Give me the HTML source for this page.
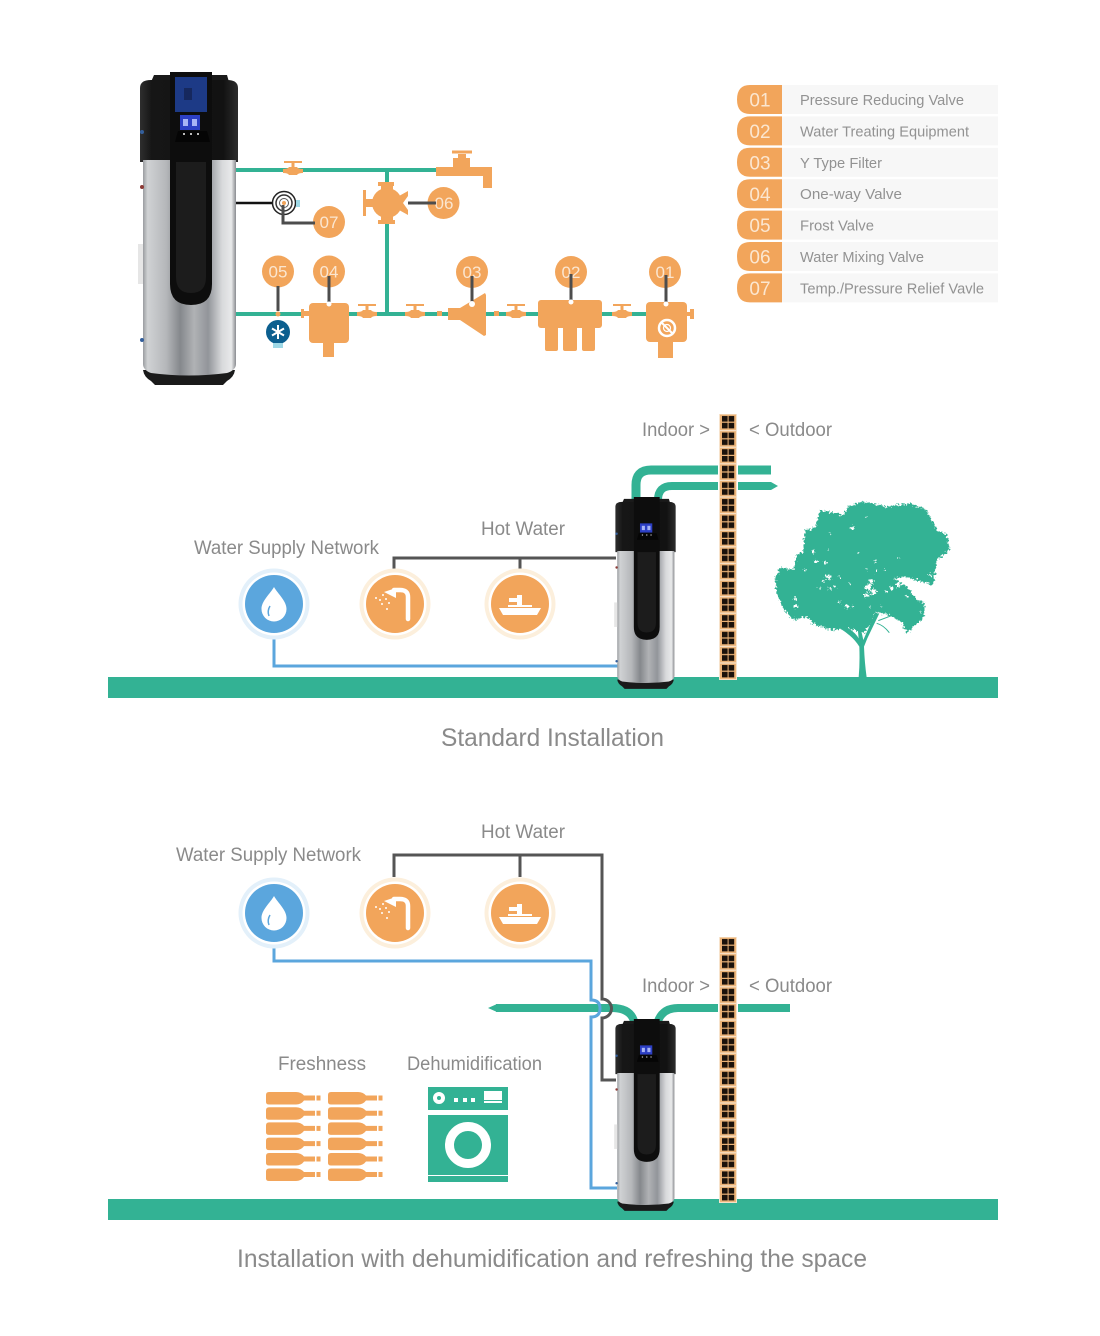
<!DOCTYPE html>
<html><head><meta charset="utf-8"><style>
html,body{margin:0;padding:0;background:#fff;width:1100px;height:1336px;overflow:hidden}
svg{display:block}
text{font-family:"Liberation Sans",sans-serif;fill:#8a8a8a}
.n{fill:#fbe6d0;text-anchor:middle;font-size:17px}
.t{font-size:14.5px;fill:#929292}
.l{font-size:19px}
</style></head><body>
<svg width="1100" height="1336" viewBox="0 0 1100 1336" xmlns="http://www.w3.org/2000/svg">
<defs>
<linearGradient id="si" x1="0" x2="1" y1="0" y2="0">
<stop offset="0" stop-color="#9a9da0"/><stop offset=".05" stop-color="#d0d2d4"/><stop offset=".25" stop-color="#b5b7ba"/><stop offset=".4" stop-color="#85888c"/><stop offset=".55" stop-color="#b0b2b5"/><stop offset=".7" stop-color="#92959a"/><stop offset=".85" stop-color="#d8d9db"/><stop offset=".95" stop-color="#e8e9ea"/><stop offset="1" stop-color="#8a8c90"/>
</linearGradient>
<linearGradient id="bk" x1="0" x2="1" y1="0" y2="0">
<stop offset="0" stop-color="#2e2e2e"/><stop offset=".12" stop-color="#161616"/><stop offset=".85" stop-color="#121212"/><stop offset="1" stop-color="#2c2c2c"/>
</linearGradient>
<g id="heater">
<path d="M2 298Q3 305 10 309L14 313H82L86 309Q93 305 94 298Z" fill="#1a1a1a"/>
<path d="M10 10 L13 3 H86 L88 10Z" fill="#1a1a1a"/>
<path d="M-1 90V16Q-1 8 10 8H86Q97 8 97 16V90Z" fill="url(#bk)"/>
<path d="M2 88H95V292Q95 298 86 301Q48 306 10 301Q2 298 2 292Z" fill="url(#si)"/>
<path d="M29 0H71V212Q71 233 50 233Q29 233 29 212Z" fill="#0d0d0d"/>
<path d="M35 90H65V205Q65 221 50 221Q35 221 35 205Z" fill="#1c1c1c"/>
<rect x="39" y="43" width="20" height="15" fill="#2c3fc4"/>
<rect x="42" y="47" width="5" height="7" fill="#a8b4f5"/><rect x="51" y="47" width="5" height="7" fill="#a8b4f5"/>
<path d="M37 59H66L69 70H34Z" fill="#050505"/>
<rect x="42" y="61" width="2" height="2" fill="#bbb"/><rect x="49" y="61" width="2" height="2" fill="#bbb"/><rect x="56" y="61" width="2" height="2" fill="#bbb"/>
<circle cx="1" cy="60" r="2" fill="#345f9c"/><circle cx="1" cy="115" r="2" fill="#8c3a36"/><circle cx="1" cy="268" r="2" fill="#345f9c"/>
<rect x="-3" y="172" width="5" height="40" fill="#e6e6e6"/>
</g>
<g id="valve" fill="#f2a55b">
<rect x="-9" y="-9" width="18" height="2"/><rect x="-1.5" y="-8" width="3" height="6"/>
<path d="M-10 -1 Q-5 -1 -4 -3 H4 Q5 -1 10 -1 V3 Q5 3 4 5 H-4 Q-5 3 -10 3Z"/>
</g>
<pattern id="brick" x="719" y="414" width="18" height="16.6" patternUnits="userSpaceOnUse">
<rect width="18" height="16.6" fill="#f7e3cc"/>
<rect x="1" y=".6" width="16" height="15.4" fill="#ecb377"/>
<rect x="3" y="2" width="5.6" height="5.6" fill="#1b120b"/><rect x="9.6" y="2" width="5.6" height="5.6" fill="#1b120b"/>
<rect x="3" y="8.800" width="5.6" height="5.6" fill="#1b120b"/><rect x="9.6" y="8.800" width="5.6" height="5.6" fill="#1b120b"/>
</pattern>
<pattern id="brick2" x="719" y="937" width="18" height="16.6" patternUnits="userSpaceOnUse">
<rect width="18" height="16.6" fill="#f7e3cc"/>
<rect x="1" y=".6" width="16" height="15.4" fill="#ecb377"/>
<rect x="3" y="2" width="5.6" height="5.6" fill="#1b120b"/><rect x="9.6" y="2" width="5.6" height="5.6" fill="#1b120b"/>
<rect x="3" y="8.800" width="5.6" height="5.6" fill="#1b120b"/><rect x="9.6" y="8.800" width="5.6" height="5.6" fill="#1b120b"/>
</pattern>
<g id="drop">
<circle r="35.5" fill="#e3f0fa"/><circle r="31.5" fill="#fff"/><circle r="29" fill="#5ba6dd"/>
<path d="M0 -17 C4 -10 12.500 -3 12.500 5 A12.500 12.500 0 0 1 -12.500 5 C-12.500 -3 -4 -10 0 -17Z" fill="#fff"/>
<path d="M-4 2 Q-7 7 -5 12" stroke="#5ba6dd" stroke-width="1.5" fill="none"/>
</g>
<g id="shower">
<circle r="35.5" fill="#fcefdc"/><circle r="31.5" fill="#fff"/><circle r="29" fill="#f2a55b"/>
<path d="M13 15V-7Q13 -14 5 -14H-1" stroke="#fff" stroke-width="4.500" fill="none" stroke-linecap="round"/>
<path d="M-11 -12 L1 -16 V-6Z" fill="#fff"/>
<g fill="#fff"><circle cx="-12" cy="-9" r="1"/><circle cx="-19" cy="-6" r="1"/><circle cx="-15" cy="-4" r="1"/><circle cx="-9" cy="-5" r="1"/><circle cx="-13" cy="0" r="1"/><circle cx="-6" cy="-1" r="1"/><circle cx="-8" cy="5" r="1"/></g>
</g>
<g id="sink">
<circle r="35.5" fill="#fcefdc"/><circle r="31.5" fill="#fff"/><circle r="29" fill="#f2a55b"/>
<path d="M-21 4H21L17 11H-17Z" fill="#fff"/>
<rect x="-3" y="-9" width="5" height="12" fill="#fff"/><rect x="-11" y="-6" width="9" height="4" fill="#fff"/><rect x="-12" y="1" width="24" height="2" fill="#fff"/>
</g>
<g id="bottle" fill="#f2a55b">
<path d="M3 0H30Q35 0 38 3.500H49V8.500H38Q35 12.500 30 12.500H3Q0 12.500 0 10V3Q0 0 3 0Z"/>
<rect x="50.500" y="3.500" width="4" height="5"/>
</g>
<filter id="rough" x="-5%" y="-5%" width="110%" height="110%" color-interpolation-filters="sRGB">
<feTurbulence type="fractalNoise" baseFrequency=".16" numOctaves="2" seed="7"/>
<feDisplacementMap in="SourceGraphic" scale="20" xChannelSelector="R" yChannelSelector="G"/>
</filter>
</defs>

<!-- table -->
<g>
<rect x="782" y="85" width="216" height="29" fill="#f7f7f7"/>
<rect x="782" y="116.4" width="216" height="29" fill="#f7f7f7"/>
<rect x="782" y="147.8" width="216" height="29" fill="#f7f7f7"/>
<rect x="782" y="179.2" width="216" height="29" fill="#f7f7f7"/>
<rect x="782" y="210.6" width="216" height="29" fill="#f7f7f7"/>
<rect x="782" y="242" width="216" height="29" fill="#f7f7f7"/>
<rect x="782" y="273.4" width="216" height="29" fill="#f7f7f7"/>
<g fill="#f2a55b">
<path d="M782 85H750Q737 85 737 99.5Q737 114 750 114H782Z"/>
<path d="M782 116.4H750Q737 116.4 737 130.9Q737 145.4 750 145.4H782Z"/>
<path d="M782 147.8H750Q737 147.8 737 162.3Q737 176.8 750 176.8H782Z"/>
<path d="M782 179.2H750Q737 179.2 737 193.7Q737 208.2 750 208.2H782Z"/>
<path d="M782 210.6H750Q737 210.6 737 225.1Q737 239.6 750 239.6H782Z"/>
<path d="M782 242H750Q737 242 737 256.5Q737 271 750 271H782Z"/>
<path d="M782 273.4H750Q737 273.4 737 287.9Q737 302.4 750 302.4H782Z"/>
</g>
<text class="n" style="font-size:19px" x="760" y="106.5">01</text>
<text class="n" style="font-size:19px" x="760" y="138">02</text>
<text class="n" style="font-size:19px" x="760" y="169.5">03</text>
<text class="n" style="font-size:19px" x="760" y="200.8">04</text>
<text class="n" style="font-size:19px" x="760" y="232.2">05</text>
<text class="n" style="font-size:19px" x="760" y="263.6">06</text>
<text class="n" style="font-size:19px" x="760" y="295">07</text>
<text class="t" x="800" y="105" textLength="164" lengthAdjust="spacingAndGlyphs">Pressure Reducing Valve</text>
<text class="t" x="800" y="136.4" textLength="169" lengthAdjust="spacingAndGlyphs">Water Treating Equipment</text>
<text class="t" x="800" y="167.8" textLength="82" lengthAdjust="spacingAndGlyphs">Y Type Filter</text>
<text class="t" x="800" y="199.2" textLength="102" lengthAdjust="spacingAndGlyphs">One-way Valve</text>
<text class="t" x="800" y="230.6" textLength="74" lengthAdjust="spacingAndGlyphs">Frost Valve</text>
<text class="t" x="800" y="262" textLength="124" lengthAdjust="spacingAndGlyphs">Water Mixing Valve</text>
<text class="t" x="800" y="293.4" textLength="184" lengthAdjust="spacingAndGlyphs">Temp./Pressure Relief Vavle</text>
</g>

<!-- top pipes -->
<g fill="none" stroke="#33b294" stroke-width="4">
<path d="M236 170H440"/><path d="M387 170V314"/><path d="M236 314H650"/>
</g>
<path d="M236 203H275" stroke="#111" stroke-width="2.5"/>
<use href="#heater" x="141" y="72"/>
<path d="M175 77H207V112H175Z" fill="#1d3a86"/><path d="M184 88H192V100H184Z" fill="#16285e"/>
<use href="#valve" x="293" y="170"/><use href="#valve" x="367" y="313"/><use href="#valve" x="415" y="313"/><use href="#valve" x="516" y="313"/><use href="#valve" x="622" y="313"/>
<rect x="437" y="311" width="5" height="5" fill="#f2a55b"/><rect x="494" y="311" width="5" height="5" fill="#f2a55b"/>
<!-- faucet -->
<path d="M436 167H453V158H458V154H466V158H470V167H492V188H483V176H436Z" fill="#f2a55b"/>
<rect x="452" y="150.500" width="20" height="3" fill="#f2a55b"/>
<!-- mix valve -->
<g fill="#f2a55b">
<rect x="378" y="182" width="16" height="4"/><rect x="381" y="185" width="12" height="36"/><rect x="378" y="220" width="17" height="4"/>
<circle cx="387" cy="203" r="15"/><rect x="366" y="199" width="8" height="8"/><rect x="363" y="190" width="3" height="26"/>
<path d="M399 196L408 191V196L403 203L408 210V215L399 210Z"/>
</g>
<circle cx="407" cy="203" r="2.500" fill="#fff"/>
<!-- gauge -->
<circle cx="284" cy="203" r="11.500" fill="#fff" stroke="#222" stroke-width="1.500"/><circle cx="284" cy="203" r="8" fill="none" stroke="#333" stroke-width="1.500"/><circle cx="284" cy="203" r="4.500" fill="none" stroke="#555" stroke-width="1"/>
<rect x="296" y="200" width="4" height="7" fill="#9ed8e6"/>
<!-- parts -->
<g fill="#f2a55b">
<rect x="309" y="303" width="40" height="40" rx="4"/><rect x="323" y="342" width="11" height="15"/><rect x="301" y="311" width="9" height="5"/><rect x="301" y="309" width="3" height="9"/>
<path d="M448 308H460L485 293L486 295V335L484 336L460 320H448Z"/>
<rect x="538" y="300" width="64" height="28" rx="3"/><rect x="545" y="326" width="13" height="25" rx="2"/><rect x="563" y="326" width="14" height="25" rx="2"/><rect x="582" y="326" width="13" height="25" rx="2"/>
<rect x="646" y="302" width="41" height="40" rx="4"/><rect x="658" y="341" width="15" height="17"/><rect x="686" y="312" width="5" height="4"/><rect x="690" y="309" width="4" height="10"/>
</g>
<circle cx="667" cy="328" r="8" fill="none" stroke="#fff" stroke-width="2.500"/><path d="M661 322L673 334" stroke="#fff" stroke-width="2"/><circle cx="667" cy="328" r="3.500" fill="none" stroke="#fff" stroke-width="1.200"/>
<!-- frost valve -->
<circle cx="278" cy="332" r="12" fill="#0c5f8f"/>
<path d="M278 325V339M272 328.500L284 335.500M284 328.500L272 335.500" stroke="#fff" stroke-width="2"/>
<rect x="273" y="343" width="10" height="5" fill="#9ed8e6"/>
<!-- circles -->
<g fill="#f2a55b">
<circle cx="329" cy="222" r="16"/><circle cx="278" cy="271.500" r="16"/><circle cx="329" cy="271.500" r="16"/><circle cx="443.500" cy="203" r="16"/><circle cx="472" cy="272" r="16"/><circle cx="571" cy="272" r="16"/><circle cx="665" cy="272" r="16"/>
</g>
<text class="n" x="329" y="228">07</text><text class="n" x="278" y="277.500">05</text><text class="n" x="329" y="277.500">04</text><text class="n" x="444" y="209">06</text><text class="n" x="472" y="278">03</text><text class="n" x="571" y="278">02</text><text class="n" x="665" y="278">01</text>
<g fill="none" stroke="#4d4d4d" stroke-width="3">
<path d="M283 205V223H315"/><path d="M278 286V311"/><path d="M329 276V303"/><path d="M408 203H436"/><path d="M472 276V303"/><path d="M571 274V302"/><path d="M666 275V303"/>
</g>
<g fill="#fff">
<circle cx="329" cy="304" r="2.500"/><circle cx="472" cy="304" r="3"/><circle cx="571" cy="302" r="2.500"/><circle cx="666" cy="304" r="2.500"/>
</g>
<circle cx="278" cy="314" r="2.500" fill="#f2a55b"/><circle cx="284" cy="203" r="2" fill="#f2a55b"/>

<!-- scene 2 -->
<rect x="108" y="677" width="890" height="21" fill="#33b294"/>
<g fill="none" stroke="#33b294">
<path d="M636 500V485Q636 470 651 470H718" stroke-width="9"/><path d="M738 470H771" stroke-width="9"/>
<path d="M658 500Q658 486 672 486H718" stroke-width="8"/>
</g>
<path d="M738 482H771L778 486L771 490H738Z" fill="#33b294"/>
<path d="M394 575V558H616M520 558V575" fill="none" stroke="#555" stroke-width="3"/>
<path d="M274 638V666H618" fill="none" stroke="#5ba6dd" stroke-width="3"/>
<use href="#drop" x="274" y="604"/><use href="#shower" x="395" y="604"/><use href="#sink" x="520" y="604"/>
<g transform="translate(616 497) scale(.615 .613)"><use href="#heater"/></g>
<rect x="719" y="414" width="18" height="266" fill="url(#brick)"/>
<!-- tree -->
<g transform="translate(760 490) scale(.3333)">
<path d="M296 562 Q300 520 298 470 Q280 440 240 415 L250 405 Q285 425 296 445 L292 405 L300 405 L310 450 L345 370 L358 370 L322 445 L312 470 Q314 520 320 562Z" fill="#33b294"/>
<g filter="url(#rough)">
<path d="M45 265L60 232L100 240L110 195L130 185L135 120L165 115L180 60L250 75L265 50L310 35L380 50L450 40L500 60L530 120L560 135L570 180L530 210L520 285L470 270L430 260L400 265L440 290L470 330L495 340L490 385L440 430L425 395L385 375L350 365L330 405L310 430L270 415L215 420L165 405L140 378L100 390L70 355L50 310Z" fill="#33b294"/>
<g fill="#fff">
<circle cx="325" cy="290" r="9"/><circle cx="340" cy="305" r="9"/><circle cx="320" cy="315" r="7"/><circle cx="335" cy="275" r="7"/><circle cx="205" cy="262" r="8"/><circle cx="190" cy="272" r="4"/><circle cx="168" cy="215" r="5"/><circle cx="195" cy="218" r="5"/><circle cx="105" cy="325" r="5"/><circle cx="108" cy="348" r="5"/><circle cx="262" cy="350" r="6"/><circle cx="280" cy="350" r="3"/><circle cx="240" cy="335" r="3"/><circle cx="395" cy="295" r="6"/><circle cx="415" cy="285" r="6"/><circle cx="380" cy="305" r="3"/><circle cx="278" cy="115" r="5"/><circle cx="160" cy="185" r="4"/><circle cx="210" cy="295" r="4"/><circle cx="180" cy="295" r="3"/><circle cx="345" cy="215" r="4"/><circle cx="320" cy="235" r="3"/><circle cx="375" cy="240" r="3"/><circle cx="350" cy="245" r="3"/><circle cx="415" cy="205" r="3"/><circle cx="295" cy="190" r="2.500"/><circle cx="205" cy="180" r="2.500"/><circle cx="210" cy="130" r="2.500"/><circle cx="320" cy="80" r="2.500"/><circle cx="440" cy="320" r="3"/><circle cx="330" cy="350" r="3"/><circle cx="365" cy="350" r="3"/><circle cx="240" cy="260" r="3"/><circle cx="270" cy="280" r="3"/><circle cx="225" cy="290" r="3"/><circle cx="510" cy="255" r="4"/><circle cx="135" cy="240" r="3"/><circle cx="480" cy="365" r="3"/>
</g></g>
<path d="M350 400Q370 405 388 428M355 392L400 375" fill="none" stroke="#33b294" stroke-width="3"/>
</g>
<text class="l" x="642" y="436" textLength="68" lengthAdjust="spacingAndGlyphs">Indoor &gt;</text>
<text class="l" x="749" y="436" textLength="83" lengthAdjust="spacingAndGlyphs">&lt; Outdoor</text>
<text class="l" x="481" y="535" textLength="84" lengthAdjust="spacingAndGlyphs">Hot Water</text>
<text class="l" x="194" y="554" textLength="185" lengthAdjust="spacingAndGlyphs">Water Supply Network</text>
<text x="441" y="746" font-size="25" textLength="223" lengthAdjust="spacingAndGlyphs">Standard Installation</text>

<!-- scene 3 -->
<rect x="108" y="1199" width="890" height="21" fill="#33b294"/>
<path d="M496 1008H612Q630 1008 634 1021" fill="none" stroke="#33b294" stroke-width="8"/>
<path d="M488 1008L497 1004V1012Z" fill="#33b294"/>
<path d="M658 1021Q663 1008 678 1008H718M738 1008H790" fill="none" stroke="#33b294" stroke-width="8"/>
<path d="M394 877V855H602V999A9.500 9.500 0 0 1 602 1018V1080H616M520 855V877" fill="none" stroke="#555" stroke-width="3"/>
<path d="M274 947V961H591V1000Q600 1000 600 1008.500Q600 1017 591 1017V1188H617" fill="none" stroke="#5ba6dd" stroke-width="3"/>
<use href="#drop" x="274" y="913"/><use href="#shower" x="395" y="913"/><use href="#sink" x="520" y="913"/>
<g transform="translate(616 1019) scale(.615 .613)"><use href="#heater"/></g>
<rect x="719" y="937" width="18" height="266" fill="url(#brick2)"/>
<text class="l" x="481" y="838" textLength="84" lengthAdjust="spacingAndGlyphs">Hot Water</text>
<text class="l" x="176" y="861" textLength="185" lengthAdjust="spacingAndGlyphs">Water Supply Network</text>
<text class="l" x="642" y="992" textLength="68" lengthAdjust="spacingAndGlyphs">Indoor &gt;</text>
<text class="l" x="749" y="992" textLength="83" lengthAdjust="spacingAndGlyphs">&lt; Outdoor</text>
<text class="l" x="278" y="1070" textLength="88" lengthAdjust="spacingAndGlyphs">Freshness</text>
<text class="l" x="407" y="1070" textLength="135" lengthAdjust="spacingAndGlyphs">Dehumidification</text>
<text x="237" y="1267" font-size="25" textLength="630" lengthAdjust="spacingAndGlyphs">Installation with dehumidification and refreshing the space</text>
<!-- bottles -->
<use href="#bottle" x="266" y="1092"/><use href="#bottle" x="266" y="1107.200"/><use href="#bottle" x="266" y="1122.400"/><use href="#bottle" x="266" y="1137.600"/><use href="#bottle" x="266" y="1153"/><use href="#bottle" x="266" y="1168.500"/>
<use href="#bottle" x="328" y="1092"/><use href="#bottle" x="328" y="1107.200"/><use href="#bottle" x="328" y="1122.400"/><use href="#bottle" x="328" y="1137.600"/><use href="#bottle" x="328" y="1153"/><use href="#bottle" x="328" y="1168.500"/>
<!-- washer -->
<rect x="428" y="1087" width="80" height="23" fill="#33b294"/>
<rect x="428" y="1115" width="80" height="60" fill="#33b294"/>
<rect x="428" y="1176" width="80" height="6" fill="#33b294"/>
<circle cx="468" cy="1145" r="18.500" fill="none" stroke="#fff" stroke-width="9"/>
<circle cx="439" cy="1098" r="4" fill="#33b294" stroke="#fff" stroke-width="4"/>
<rect x="454" y="1098" width="4" height="4" fill="#fff"/><rect x="463" y="1098" width="4" height="4" fill="#fff"/><rect x="471" y="1098" width="4" height="4" fill="#fff"/>
<rect x="484" y="1091" width="18" height="9" fill="#fff"/><rect x="484" y="1101" width="18" height="2" fill="#fff"/>
</svg>
</body></html>
